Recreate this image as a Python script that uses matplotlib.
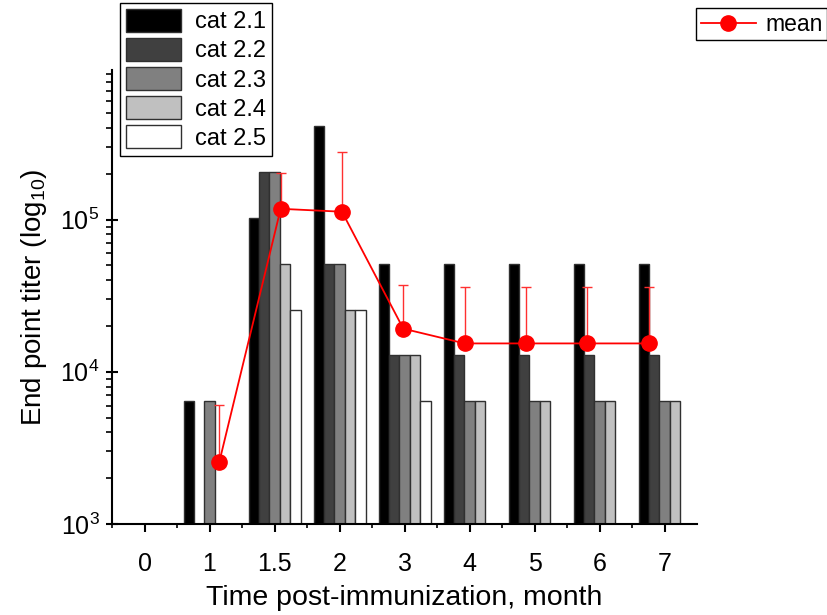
"""
Grouped bar chart of end point titers per immunization time,
with the group mean (upper std error bar) drawn on top.
"""

import numpy as np
import matplotlib
matplotlib.use("Agg")
import matplotlib.pyplot as plt
import matplotlib.ticker as mticker

plt.rcParams["font.family"] = ["Liberation Sans", "DejaVu Sans"]
plt.rcParams["mathtext.fontset"] = "custom"
plt.rcParams["mathtext.rm"] = "Liberation Sans"
plt.rcParams["mathtext.it"] = "Liberation Sans:italic"

# ─── Data ──────────────────────────────────────────────────────────────────────

months = ["0", "1", "1.5", "2", "3", "4", "5", "6", "7"]

cat_21 = [0, 6400, 102400, 409600, 51200, 51200, 51200, 51200, 51200]
cat_22 = [0, 0, 204800, 51200, 12800, 12800, 12800, 12800, 12800]
cat_23 = [0, 6400, 204800, 51200, 12800, 6400, 6400, 6400, 6400]
cat_24 = [0, 0, 51200, 25600, 12800, 6400, 6400, 6400, 6400]
cat_25 = [0, 0, 25600, 25600, 6400, 0, 0, 0, 0]

series_names = ["cat 2.1", "cat 2.2", "cat 2.3", "cat 2.4", "cat 2.5"]

# mean of each time point (month 1 .. 7) and its upper error
mean_titer = [2560, 117760, 112640, 19200, 15360, 15360, 15360, 15360]
mean_err = [3510, 84130, 166520, 18100, 20540, 20540, 20540, 20540]

# ─── Plot ──────────────────────────────────────────────────────────────────────

colors = ["#000000", "#404040", "#808080", "#c0c0c0", "#ffffff"]
all_series = [cat_21, cat_22, cat_23, cat_24, cat_25]

fig = plt.figure(figsize=(8.28, 6.15), dpi=100)
ax = fig.add_axes([0.1353, 0.148, 0.7065, 0.738])

x = np.arange(len(months))
bar_w = 0.16
bar_handles = []
for j, (vals, col, name) in enumerate(zip(all_series, colors, series_names)):
    v = np.array(vals, dtype=float)
    v[v <= 0] = np.nan           # zero titers are not drawn on a log axis
    b = ax.bar(x + (j - 2) * bar_w, v, width=bar_w, bottom=1,
               color=col, edgecolor="#303030", linewidth=1.0, label=name)
    bar_handles.append(b)

ax.set_yscale("log")
ax.set_ylim(1e3, 9.6e5)
ax.set_xlim(-0.5, 8.5)
ax.set_xticks(x)
ax.set_xticklabels(months)
ax.xaxis.set_minor_locator(mticker.FixedLocator(x - 0.5))
ax.yaxis.set_major_locator(mticker.LogLocator(base=10, numticks=10))
ax.yaxis.set_minor_locator(mticker.LogLocator(base=10, subs=np.arange(2, 10), numticks=20))

ax.spines[["top", "right"]].set_visible(False)
ax.spines[["left", "bottom"]].set_linewidth(1.5)
ax.tick_params(axis="x", which="major", direction="out", length=6, width=1.5,
               labelsize=18, pad=14)
ax.tick_params(axis="x", which="minor", direction="out", length=3, width=1.2)
ax.tick_params(axis="y", which="major", direction="inout", length=8, width=1.5,
               labelsize=18, pad=5)
ax.tick_params(axis="y", which="minor", direction="out", length=4, width=1.2)

ax.set_xlabel("Time post-immunization, month", fontsize=20.5, labelpad=7)
ax.set_ylabel(r"End point titer (log$_{10}$)", fontsize=20, labelpad=8)

# the mean line sits on its own x scale (points 1..8)
ax2 = ax.twiny()
ax2.set_xlim(-0.75, 8.79)
ax2.set_axis_off()
mean_x = np.arange(1, len(mean_titer) + 1)
ax2.errorbar(mean_x, mean_titer,
             yerr=[np.zeros(len(mean_err)), mean_err],
             fmt="none", ecolor="#ff3030", elinewidth=1.0, capsize=3.5,
             capthick=1.0)
mean_line, = ax2.plot(mean_x, mean_titer, color="red", linewidth=1.3,
                      marker="o", markersize=11, markeredgecolor="red",
                      label="mean")
ax2.set_ylim(ax.get_ylim())

# ─── Legends ───────────────────────────────────────────────────────────────────

leg1 = fig.legend(handles=bar_handles, labels=series_names,
                  loc="upper left", bbox_to_anchor=(0.145, 0.995),
                  fontsize=17, frameon=True, fancybox=False,
                  edgecolor="black", framealpha=1, borderaxespad=0,
                  handlelength=2.33, handleheight=1.1, labelspacing=0.2,
                  handletextpad=0.6, borderpad=0.25)
leg1.get_frame().set_linewidth(1.0)

leg2 = fig.legend(handles=[mean_line], labels=["mean"],
                  loc="upper right", bbox_to_anchor=(0.999, 0.987),
                  fontsize=16.5, frameon=True, fancybox=False,
                  edgecolor="black", framealpha=1, borderaxespad=0,
                  handlelength=2.4, handletextpad=0.42, borderpad=0.2)
leg2.get_frame().set_linewidth(1.0)

fig.savefig("out.png", dpi=100)
